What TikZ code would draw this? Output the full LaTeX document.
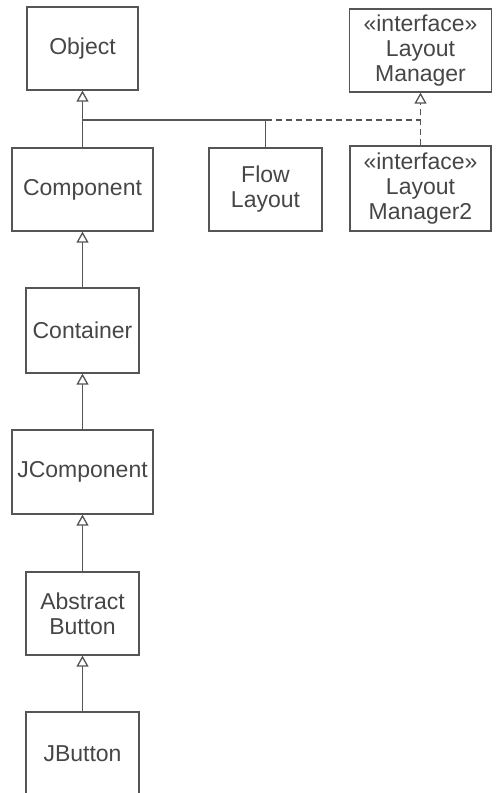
\documentclass[tikz,border=0pt]{standalone}
\usepackage{fontspec}
\setmainfont{Liberation Sans}
\usetikzlibrary{arrows.meta}
\definecolor{umlline}{RGB}{85,85,85}
\definecolor{umltext}{RGB}{70,70,70}
\tikzset{
  % Klass qutilari
  cls/.style       = {draw=umlline, line width=1.3pt, align=center, text=umltext,
                      font=\fontsize{23}{25}\selectfont, inner sep=2pt},
  % Vorislik va realizatsiya chiziqlari
  extends/.style   = {draw=umlline, line width=1.3pt},
  realize/.style   = {draw=umlline, line width=1.3pt, dash pattern=on 6pt off 4pt},
  hollow/.style    = {-{Triangle[open, length=11pt, width=12pt, fill=white]}},
}
\begin{document}
\begin{tikzpicture}[x=1pt, y=-1pt]
  \useasboundingbox (0,0) rectangle (497,793);
  % Asosiy ierarxiya
  \node[cls, minimum width=111pt, minimum height=83pt] (object)      at (82.5,48.5)  {Object};
  \node[cls, minimum width=141pt, minimum height=83pt] (component)   at (82.5,189.5) {Component};
  \node[cls, minimum width=113pt, minimum height=85pt] (container)   at (82.5,330.5) {Container};
  \node[cls, minimum width=141pt, minimum height=84pt] (jcomponent)  at (82.5,472)   {JComponent};
  \node[cls, minimum width=113pt, minimum height=83pt] (abstractbtn) at (82.5,613.5) {Abstract\\Button};
  \node[cls, minimum width=113pt, minimum height=84pt] (jbutton)     at (82.5,754)   {JButton};
  % Layout klasslari
  \node[cls, minimum width=113pt, minimum height=83pt] (flowlayout)   at (265.5,189.5) {Flow\\Layout};
  \node[cls, minimum width=142pt, minimum height=83pt] (layoutmgr)    at (420.5,50.5)  {«interface»\\Layout\\Manager};
  \node[cls, minimum width=141pt, minimum height=85pt] (layoutmgrtwo) at (420.5,188.5) {«interface»\\Layout\\Manager2};
  % Tutashuv nuqtalari
  \coordinate (objjoin) at (82.5,120);
  \coordinate (lmjoin)  at (420.5,120);
  % Vorislik strelkalari
  \draw[extends, hollow] (objjoin) -- (object.south);
  \draw[extends] (component.north) -- (objjoin);
  \draw[extends] (flowlayout.north) |- (objjoin);
  \draw[extends, hollow] (container.north) -- (component.south);
  \draw[extends, hollow] (jcomponent.north) -- (container.south);
  \draw[extends, hollow] (abstractbtn.north) -- (jcomponent.south);
  \draw[extends, hollow] (jbutton.north) -- (abstractbtn.south);
  % Interfeys realizatsiyasi
  \draw[realize] (flowlayout.north |- objjoin) -- (lmjoin);
  \draw[realize, hollow] (layoutmgrtwo.north) -- (layoutmgr.south);
\end{tikzpicture}
\end{document}
